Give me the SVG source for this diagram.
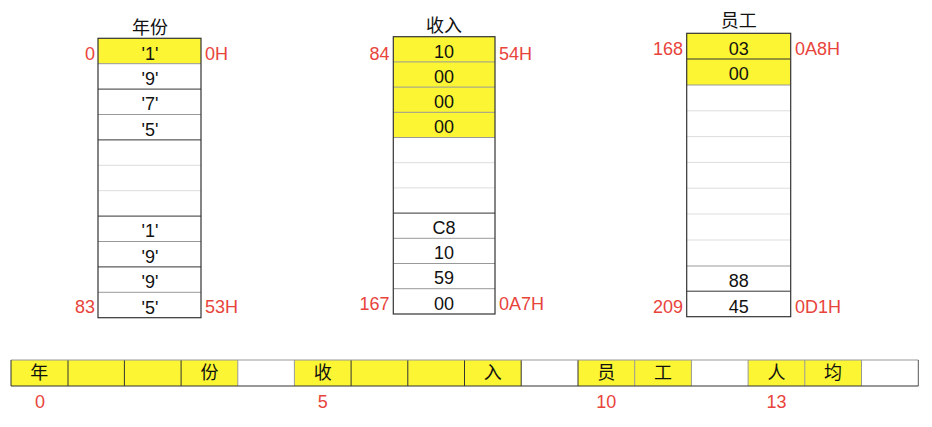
<svg xmlns="http://www.w3.org/2000/svg" width="932" height="427" viewBox="0 0 932 427">
<style>
text{font-family:"Liberation Sans","Noto Sans CJK SC",sans-serif;}
.t{font-size:18px;fill:#111;text-anchor:middle;}
.h{font-size:18px;fill:#111;text-anchor:middle;}
.r{font-size:18px;fill:#e8443c;}
.re{text-anchor:end;}
.rm{text-anchor:middle;}
.y{fill:#fbf533;}
.w{fill:#fff;}
.d{stroke:#333;stroke-width:1;}
.g{stroke:#999;stroke-width:1;}
.l{stroke:#ddd;stroke-width:1;}
.b{fill:none;stroke:#333;stroke-width:1.2;}
</style>
<rect width="932" height="427" fill="#fff"/>
<g id="year-col">
<text class="h" x="150" y="34">年份</text>
<rect class="w" x="98" y="38.3" width="103" height="279.4"/>
<rect class="y" x="98" y="38.3" width="103" height="25.4"/>
<line class="g" x1="98" y1="63.7" x2="201" y2="63.7"/>
<line class="d" x1="98" y1="89.1" x2="201" y2="89.1"/>
<line class="g" x1="98" y1="114.5" x2="201" y2="114.5"/>
<line class="d" x1="98" y1="139.9" x2="201" y2="139.9"/>
<line class="l" x1="98" y1="165.3" x2="201" y2="165.3"/>
<line class="l" x1="98" y1="190.7" x2="201" y2="190.7"/>
<line class="d" x1="98" y1="216.1" x2="201" y2="216.1"/>
<line class="g" x1="98" y1="241.5" x2="201" y2="241.5"/>
<line class="d" x1="98" y1="266.9" x2="201" y2="266.9"/>
<line class="g" x1="98" y1="292.3" x2="201" y2="292.3"/>
<rect class="b" x="98" y="38.3" width="103" height="279.4"/>
<text class="t" x="150" y="59.5">'1'</text>
<text class="t" x="150" y="84.9">'9'</text>
<text class="t" x="150" y="110.3">'7'</text>
<text class="t" x="150" y="135.7">'5'</text>
<text class="t" x="150" y="237.3">'1'</text>
<text class="t" x="150" y="262.7">'9'</text>
<text class="t" x="150" y="288.1">'9'</text>
<text class="t" x="150" y="313.5">'5'</text>
<text class="r re" x="95" y="59.5">0</text>
<text class="r" x="205" y="59.5">0H</text>
<text class="r re" x="95" y="313">83</text>
<text class="r" x="205" y="313">53H</text>
</g>
<g id="income-col">
<text class="h" x="444" y="32">收入</text>
<rect class="w" x="393.3" y="36.7" width="101.7" height="277.3"/>
<rect class="y" x="393.3" y="36.7" width="101.7" height="100.8"/>
<line class="g" x1="393.3" y1="61.9" x2="495" y2="61.9" stroke="#666"/>
<line class="g" x1="393.3" y1="87.1" x2="495" y2="87.1" stroke="#666"/>
<line class="g" x1="393.3" y1="112.3" x2="495" y2="112.3" stroke="#666"/>
<line class="g" x1="393.3" y1="137.5" x2="495" y2="137.5" stroke="#777"/>
<line class="l" x1="393.3" y1="162.7" x2="495" y2="162.7"/>
<line class="l" x1="393.3" y1="187.9" x2="495" y2="187.9"/>
<line class="d" x1="393.3" y1="213.1" x2="495" y2="213.1" stroke="#555"/>
<line class="g" x1="393.3" y1="238.3" x2="495" y2="238.3" stroke="#666"/>
<line class="g" x1="393.3" y1="263.5" x2="495" y2="263.5"/>
<line class="g" x1="393.3" y1="288.7" x2="495" y2="288.7"/>
<rect class="b" x="393.3" y="36.7" width="101.7" height="277.3" stroke="#666"/>
<text class="t" x="444" y="57.5">10</text>
<text class="t" x="444" y="82.7">00</text>
<text class="t" x="444" y="107.9">00</text>
<text class="t" x="444" y="133.1">00</text>
<text class="t" x="444" y="233.9">C8</text>
<text class="t" x="444" y="259.1">10</text>
<text class="t" x="444" y="284.3">59</text>
<text class="t" x="444" y="309.5">00</text>
<text class="r re" x="389.5" y="59.5">84</text>
<text class="r" x="499" y="59.5">54H</text>
<text class="r re" x="389.5" y="309.5">167</text>
<text class="r" x="499" y="309.5">0A7H</text>
</g>
<g id="staff-col">
<text class="h" x="738.7" y="27">员工</text>
<rect class="w" x="686.7" y="33.3" width="104" height="283.4"/>
<rect class="y" x="686.7" y="33.3" width="104" height="51.7"/>
<line class="d" x1="686.7" y1="59" x2="790.7" y2="59"/>
<line class="g" x1="686.7" y1="85" x2="790.7" y2="85" stroke="#777"/>
<line class="l" x1="686.7" y1="110.8" x2="790.7" y2="110.8"/>
<line class="l" x1="686.7" y1="136.6" x2="790.7" y2="136.6"/>
<line class="l" x1="686.7" y1="162.4" x2="790.7" y2="162.4"/>
<line class="l" x1="686.7" y1="188.2" x2="790.7" y2="188.2"/>
<line class="l" x1="686.7" y1="214" x2="790.7" y2="214"/>
<line class="l" x1="686.7" y1="240" x2="790.7" y2="240"/>
<line class="g" x1="686.7" y1="266" x2="790.7" y2="266" stroke="#777"/>
<line class="d" x1="686.7" y1="291.2" x2="790.7" y2="291.2" stroke="#444"/>
<rect class="b" x="686.7" y="33.3" width="104" height="283.4" stroke="#555"/>
<text class="t" x="738.7" y="54.5">03</text>
<text class="t" x="738.7" y="80">00</text>
<text class="t" x="738.7" y="286.5">88</text>
<text class="t" x="738.7" y="312.5">45</text>
<text class="r re" x="683" y="54.5">168</text>
<text class="r" x="795" y="54.5">0A8H</text>
<text class="r re" x="683" y="312.5">209</text>
<text class="r" x="795" y="312.5">0D1H</text>
</g>
<g id="bottom-row">
<rect class="y" x="11" y="360" width="226.8" height="26"/>
<rect class="y" x="294.4" y="360" width="226.8" height="26"/>
<rect class="y" x="578" y="360" width="113.4" height="26"/>
<rect class="y" x="748.1" y="360" width="113.4" height="26"/>
<line class="d" x1="68" y1="360" x2="68" y2="386" stroke="#777"/>
<line class="d" x1="124.4" y1="360" x2="124.4" y2="386"/>
<line class="d" x1="181.1" y1="360" x2="181.1" y2="386"/>
<line class="g" x1="237.8" y1="360" x2="237.8" y2="386"/>
<line class="g" x1="294.4" y1="360" x2="294.4" y2="386"/>
<line class="d" x1="351.1" y1="360" x2="351.1" y2="386"/>
<line class="d" x1="407.8" y1="360" x2="407.8" y2="386" stroke="#777"/>
<line class="d" x1="464.5" y1="360" x2="464.5" y2="386"/>
<line class="d" x1="521.2" y1="360" x2="521.2" y2="386"/>
<line class="d" x1="578" y1="360" x2="578" y2="386"/>
<line class="g" x1="634.7" y1="360" x2="634.7" y2="386" stroke="#777"/>
<line class="g" x1="691.4" y1="360" x2="691.4" y2="386"/>
<line class="g" x1="748.1" y1="360" x2="748.1" y2="386"/>
<line class="g" x1="804.8" y1="360" x2="804.8" y2="386" stroke="#888"/>
<line class="g" x1="861.5" y1="360" x2="861.5" y2="386" stroke="#888"/>
<line x1="11" y1="360" x2="918.3" y2="360" stroke="#999" stroke-width="1"/>
<line x1="11" y1="386" x2="918.3" y2="386" stroke="#333" stroke-width="1.2"/>
<line x1="11" y1="360" x2="11" y2="386" stroke="#333" stroke-width="1"/>
<line x1="918.3" y1="360" x2="918.3" y2="386" stroke="#555" stroke-width="1"/>
<text class="t" x="39.3" y="379">年</text>
<text class="t" x="209.4" y="379">份</text>
<text class="t" x="322.7" y="379">收</text>
<text class="t" x="492.8" y="379">入</text>
<text class="t" x="606.3" y="379">员</text>
<text class="t" x="663" y="379">工</text>
<text class="t" x="776.4" y="379">人</text>
<text class="t" x="833.1" y="379">均</text>
<text class="r rm" x="40" y="408">0</text>
<text class="r rm" x="322.7" y="408">5</text>
<text class="r rm" x="606.3" y="408">10</text>
<text class="r rm" x="776.4" y="408">13</text>
</g>
</svg>
